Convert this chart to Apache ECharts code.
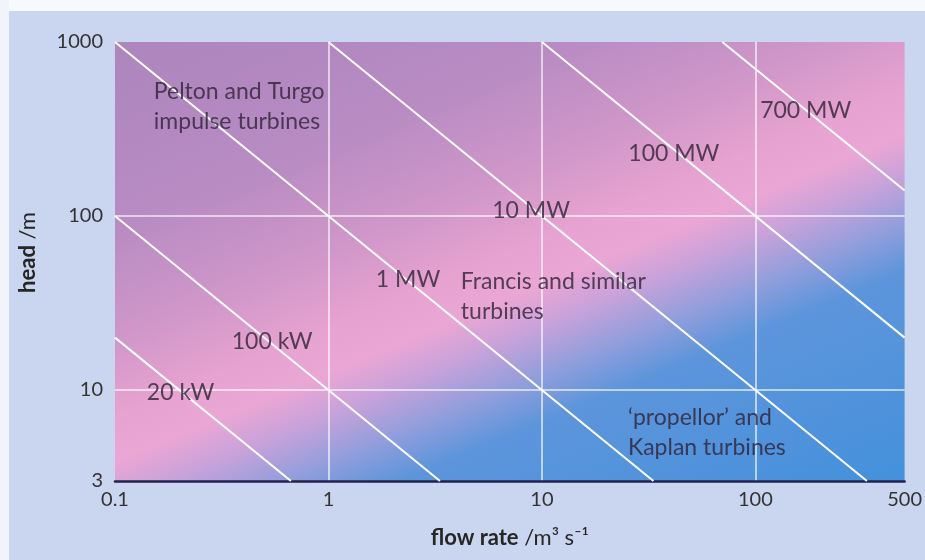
<!DOCTYPE html>
<html>
<head>
<meta charset="utf-8">
<script src="https://cdn.jsdelivr.net/npm/echarts@6/dist/echarts.min.js"></script>
<style>
  html, body { margin: 0; padding: 0; background: #ffffff; }
  #chart { width: 925px; height: 560px; }
</style>
</head>
<body>
<div id="chart"></div>
<script>
// Log axis extents
const flowMin = 0.1, flowMax = 500;
const headMin = 3, headMax = 1000;

// Tick labels
const flowTickValues = [0.1, 1, 10, 100, 500];
const flowTickLabels = ['0.1', '1', '10', '100', '500'];
const headTickValues = [3, 10, 100, 1000];
const headTickLabels = ['3', '10', '100', '1000'];

// Constant-power lines, end points as [flow m3/s, head m]
const powerNames = ['20 kW', '100 kW', '1 MW', '10 MW', '100 MW', '700 MW'];
const powerStart = [[0.1, 20], [0.1, 100], [0.1, 1000], [1, 1000], [10, 1000], [70, 1000]];
const powerEnd = [[0.667, 3], [3.33, 3], [33.3, 3], [333, 3], [500, 20], [500, 140]];
const powerLabelPos = [[0.203, 9.7], [0.545, 19], [2.36, 43], [8.9, 107], [41.5, 228], [172, 405]];

// Turbine type regions
const regionNames = [
  'Pelton and Turgo\nimpulse turbines',
  'Francis and similar\nturbines',
  '\u2018propellor\u2019 and\nKaplan turbines'
];
const regionPos = [[0.152, 428], [4.17, 34.6], [25.3, 5.7]];

const FONT = 'Lato, "DejaVu Sans", sans-serif';
const TEXT = '#2f2236';

function tickText(values, labels) {
  return function (v) {
    for (let i = 0; i < values.length; i++) {
      if (Math.abs(Math.log10(v) - Math.log10(values[i])) < 1e-6) return labels[i];
    }
    return '';
  };
}

// plot rectangle (pixels)
const plotLeft = 115, plotTop = 42, plotRight = 907, plotBottom = 481;

// purple -> pink -> blue wash across the plot, perpendicular to the pink band
const bandFill = {
  type: 'linear',
  x: 365, y: -66, x2: 649, y2: 617,
  global: true,
  colorStops: [
    { offset: 0.00, color: '#ad85bd' },
    { offset: 0.24, color: '#b88bc3' },
    { offset: 0.38, color: '#d097c9' },
    { offset: 0.47, color: '#e6a2d0' },
    { offset: 0.53, color: '#eaa6d4' },
    { offset: 0.58, color: '#c9a2da' },
    { offset: 0.64, color: '#939edc' },
    { offset: 0.70, color: '#5d95db' },
    { offset: 1.00, color: '#4190dc' }
  ]
};

const chart = echarts.init(document.getElementById('chart'), null, { renderer: 'canvas' });

const series = [];
powerNames.forEach(function (name, i) {
  series.push({
    type: 'line',
    name: name,
    data: [powerStart[i], powerEnd[i]],
    symbol: 'none',
    silent: true,
    z: 3,
    lineStyle: { color: '#ffffff', width: 2 }
  });
});

series.push({
  type: 'scatter',
  name: 'power labels',
  data: powerLabelPos.map(function (p, i) { return { name: powerNames[i], value: p }; }),
  symbolSize: 0,
  silent: true,
  z: 5,
  label: {
    show: true,
    position: 'inside',
    formatter: function (p) { return p.name; },
    fontFamily: FONT,
    fontSize: 23,
    color: TEXT
  }
});

series.push({
  type: 'scatter',
  name: 'region labels',
  data: regionPos.map(function (p, i) { return { name: regionNames[i], value: p }; }),
  symbolSize: 0,
  silent: true,
  z: 5,
  label: {
    show: true,
    position: 'inside',
    align: 'left',
    formatter: function (p) { return p.name; },
    fontFamily: FONT,
    fontSize: 23,
    lineHeight: 30,
    color: TEXT
  }
});

chart.setOption({
  backgroundColor: '#cad6ef',
  animation: false,
  graphic: [
    { type: 'rect', shape: { x: 0, y: 0, width: 925, height: 11 }, style: { fill: '#f8f9fd' }, z: -10 },
    { type: 'rect', shape: { x: 0, y: 0, width: 9, height: 560 }, style: { fill: '#f1f4fb' }, z: -10 }
  ],
  grid: {
    left: plotLeft,
    top: plotTop,
    right: 925 - plotRight,
    bottom: 560 - plotBottom,
    show: true,
    borderWidth: 0,
    backgroundColor: bandFill
  },
  xAxis: {
    type: 'log',
    logBase: 10,
    min: flowMin,
    max: flowMax,
    name: '{b|flow rate} /m\u00b3 s\u207b\u00b9',
    nameLocation: 'middle',
    nameGap: 46,
    nameTextStyle: {
      fontFamily: FONT, fontSize: 22, color: '#262626',
      rich: { b: { fontFamily: FONT, fontSize: 22, fontWeight: 'bold', color: '#262626' } }
    },
    axisLine: { show: true, lineStyle: { color: '#23224d', width: 2.5 } },
    axisTick: { show: false },
    axisLabel: {
      showMinLabel: true,
      showMaxLabel: true,
      margin: 9,
      fontFamily: FONT,
      fontSize: 20,
      color: '#333333',
      formatter: tickText(flowTickValues, flowTickLabels)
    },
    splitLine: {
      show: true,
      showMinLine: false,
      showMaxLine: false,
      lineStyle: { color: 'rgba(255,255,255,0.8)', width: 1.5 }
    }
  },
  yAxis: {
    type: 'log',
    logBase: 10,
    min: headMin,
    max: headMax,
    name: '{b|head} /m',
    nameLocation: 'middle',
    nameRotate: 90,
    nameGap: 76,
    nameTextStyle: {
      fontFamily: FONT, fontSize: 22, color: '#262626',
      padding: [0, 0, 0, 18],
      rich: { b: { fontFamily: FONT, fontSize: 22, fontWeight: 'bold', color: '#262626' } }
    },
    axisLine: { show: false },
    axisTick: { show: false },
    axisLabel: {
      showMinLabel: true,
      showMaxLabel: true,
      margin: 12,
      fontFamily: FONT,
      fontSize: 20,
      color: '#333333',
      formatter: tickText(headTickValues, headTickLabels)
    },
    splitLine: {
      show: true,
      showMinLine: false,
      showMaxLine: false,
      lineStyle: { color: 'rgba(255,255,255,0.8)', width: 1.5 }
    }
  },
  series: series
});
</script>
</body>
</html>
